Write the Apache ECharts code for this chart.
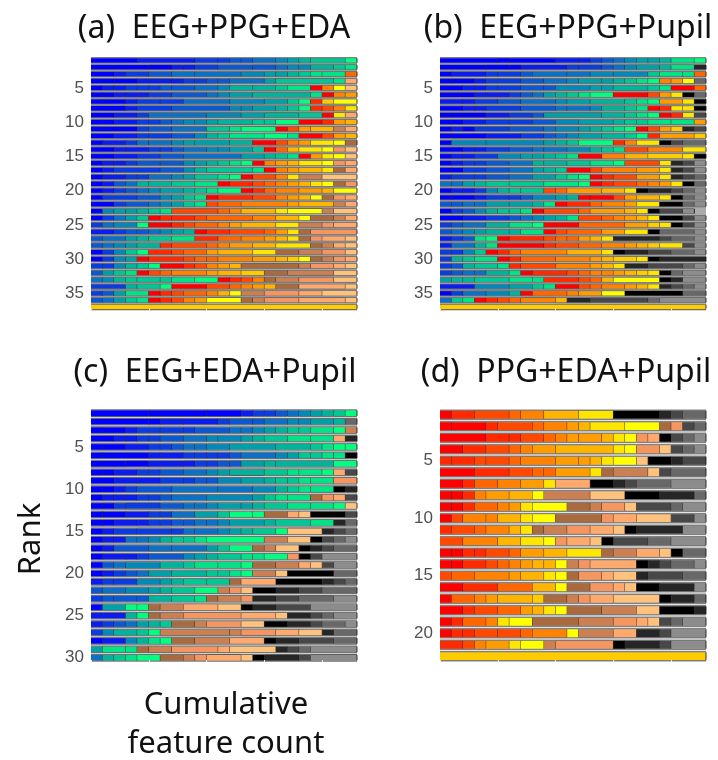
<!DOCTYPE html>
<html><head><meta charset="utf-8">
<style>html,body{margin:0;padding:0;background:#fff}#c{width:718px;height:760px}</style>
<script src="https://cdn.jsdelivr.net/npm/echarts@6/dist/echarts.min.js"></script></head>
<body><div id="c"></div><script>
// Shade codes: a-k EEG, l-u PPG, v-z EDA, A-E Pupil. Each token = shade + number of features.
const shadeColors = {
 a:'#0000ff',b:'#0a1cf0',c:'#0a3ce0',d:'#0c58d0',e:'#0c70c4',f:'#0488b8',g:'#00a0a8',h:'#00b49c',i:'#00c894',j:'#00e488',k:'#00ff80',
 l:'#ff0000',m:'#ff2a00',n:'#ff4800',o:'#ff6600',p:'#ff8200',q:'#ff9c00',r:'#ffb400',s:'#ffcc00',t:'#ffe600',u:'#ffff00',
 v:'#a96a3e',w:'#cc8052',x:'#f5955f',y:'#ffa96d',z:'#ffc27c',
 A:'#000000',B:'#262626',C:'#484848',D:'#686868',E:'#8c8c8c'};
const panelA = [
'a4 b5 c2 c1 d1 d1 e2 f1 g1 h1 i3 k1','a5 a2 b1 b1 c2 d3 d2 e1 f1 f1 h2 i1 j1','a2 b1 c2 d2 e2 e4 f2 g1 g1 h1 i1 j1 j2 o1','a2 a2 b3 b1 c1 c1 d1 d1 e3 g1 i5 j1 y1',
'a1 b1 b1 c1 c1 c1 d1 d2 e2 f1 h2 h2 i1 j2 l1 p1 u1 z1','a1 a1 b1 b2 c2 d3 e1 f1 g2 h5 j1 l1 p1 q1','a1 a2 b1 c2 c2 e4 f3 g2 i1 k1 m1 s1 u2','a3 b1 c3 d5 f1 f1 g2 h1 i1 k1 m1 n1 p1 t1',
'a2 b2 c1 e5 f3 g2 h3 i2 l1 t1 y1','a1 a1 b2 c1 c1 d1 e1 f1 f1 g1 h3 i1 i1 k2 l2 m1 q1 r1','a4 c1 d2 e3 i2 j1 k3 l1 n1 q1 r2 w1 y1','a2 b2 c1 c2 d2 f1 h1 i1 j3 k2 j1 l2 n1 q1 r1',
'a1 b2 c1 e1 e2 f1 g1 g3 h2 l2 n1 p1 q1 t2 u1 v1','a2 b1 b2 c1 c1 d1 e2 f1 f1 g2 i1 l1 o1 r1 t2 u1 x1 z1','a1 a1 b2 c2 d2 e5 g2 h1 i1 j1 l1 q1 t1 u1 z1','a1 b1 b1 c1 d2 d2 f1 g1 h1 i1 j1 k1 l1 p1 q1 r1 t2 u1 x1 y1',
'a1 b1 c4 d2 f1 h1 i4 j1 l1 p1 q1 r2 t1 v1 y1','a1 b2 c1 c1 e2 f1 g1 i2 j1 k1 l1 n2 p1 t1 w2 z3','a1 b1 d1 e1 h1 h2 i2 j2 l1 m2 n1 o1 p1 q1 r1 t1 u1 v1 x1','a1 b1 c1 d1 e1 f1 g2 h1 i1 j1 k2 l1 m1 o1 p2 q2 r1 u2',
'a1 c3 d2 f1 g1 i1 j1 l1 m3 n2 p1 q1 r1 u1 v1 x1 y1','a2 c1 d2 e1 f1 g1 i1 j1 n1 o2 p4 q1 r3 w1 y1','a1 f1 g1 g1 h1 i1 j1 n4 o1 p1 r3 t1 u3 w1 z2','a1 c1 e1 g1 i1 l1 m1 m2 n1 o4 p2 r2 u1 v2 w1 y1',
'c1 e1 f2 k1 l2 m1 n1 o2 p1 q1 r3 t2 w2 x1 y2','b2 c1 d1 d1 e1 f1 g1 h1 l1 m2 n3 o1 q1 t1 v1 x4','d1 e2 g1 h1 i2 j2 m2 o2 p2 q1 r1 t1 v1 x1 y2 z1','d1 e1 f1 g1 h2 m1 n3 o1 p1 q2 r2 t3 v1 w1 y1 z1',
'a1 c1 f1 i1 k1 m2 n1 o2 q1 r3 t2 v2 w2 x2 z1','a1 c1 f1 g1 l1 m3 n1 o1 o1 p3 q2 r1 s1 u1 v1 w1 x1 y1','c1 c1 f1 h1 i1 k1 l2 m1 n1 p1 q1 r1 v5 w1 x2 y1 z1','d1 g1 i1 j1 l1 n1 o1 p3 q1 r2 s2 v2 w4 z2',
'e1 f1 h1 i1 i2 i1 j2 k2 l1 m1 n1 p1 v1 w2 x3 z2','c3 h1 i2 k1 l3 n2 o1 p1 q1 r1 v2 y4 z1','c1 d1 g1 j2 l1 m1 n1 o2 p1 r1 u1 w2 x3 y2 z3','d1 e1 g1 i1 j1 l1 m1 n1 p1 q1 u3 v1 w1 x3 y4 z1','s23'];
const panelB = [
'a5 a1 a4 b2 b1 c1 d1 e1 f1 g1 g1 h1 j2 k1','a4 a2 a1 b4 c1 c2 d1 e1 f1 g2 h1 j2 B1','a1 b3 c1 c2 d1 e3 e2 f2 f3 i1 j2 j1 o1','a1 a2 b1 c3 d2 e2 f1 g2 g1 h1 i1 j1 k1 p1 q1 u1 D1',
'a2 b1 b1 c1 c2 d2 d1 f3 g1 g1 h3 i1 j1 l2 o1','a3 b1 b2 c1 d1 e1 g1 h1 i1 j1 k2 l3 n1 q1 t1 A1 D1','b2 b1 c2 d2 e3 f1 g2 h3 i1 j1 k1 q2 t1 A1','a2 b1 b1 c3 d3 e1 e2 f1 h2 i1 j1 l1 m1 t1 t1 A1',
'a4 b2 c2 d1 g5 h2 i1 j1 k1 l1 m1 t1 C1','a1 a1 b2 c2 c2 d2 f2 g3 h1 i1 i1 j2 j2 q1','a1 b1 a1 c3 d3 e1 f2 g1 h1 i1 j1 k1 l1 n1 q1 s1 B1 C1','a1 a3 b3 c2 d1 e1 f1 g2 h2 i1 k1 m1 q3 s1',
'a1 f3 f5 g1 h1 i1 k3 m1 p1 t2 A1 C1 D2','a2 b1 b1 c2 d2 e1 e2 f2 h1 i1 j1 n2 p3 t2','a1 b1 b1 c2 f2 g1 g1 h1 i1 j1 l2 p2 r2 s3 t1 A1','a1 b1 c1 c1 d2 e2 h1 h2 i2 j2 k1 n3 t1 B1 C1 E1',
'a1 a1 c2 d2 e2 g1 h1 i1 l2 n1 p3 q2 t1 B1 C1 E1','b1 c2 c1 d2 e2 g2 i1 j1 k1 l1 m1 n2 q2 t1 B1 C1 D1','e1 e1 g1 h1 i2 i3 j3 k1 l1 m1 n2 o1 p1 q1 t1 A1 D1','a1 b1 b1 c1 f1 h1 i1 i2 n1 o1 q3 r2 t1 A1 B2 C1 D1 E1',
'a1 a2 b1 c2 c1 d1 f2 g1 h1 l1 l2 n1 q1 r2 t1 A1 D1 E1','d1 d1 e1 e1 g2 g2 h1 j1 l1 m2 o1 p2 q1 t2 A2 D1 E1','a1 c1 d1 f1 h1 i1 i1 j1 l1 n3 o1 q3 r1 t1 A1 C2 E1','a2 b2 c2 d1 e1 f1 g1 h1 j1 n2 o1 p1 q1 r1 t1 A2 C1 E1',
'c1 d1 e2 h2 j2 k1 l3 o4 q2 s1 t1 A1 C1 E1','d1 e1 f1 g1 h2 h1 j2 l1 n1 o3 q2 t2 A1 D3 E1','b1 c1 d1 j1 k1 l1 m3 n1 o1 o1 q1 r1 t1 B4 C1 D2 E1','b1 e2 h1 j1 l4 m1 n2 o2 p2 q1 r1 s1 t2 C1 E1',
'c1 c1 f1 i1 l1 m1 o1 p4 r3 t1 A1 B2 C2 D2 E1','c1 h1 i1 j2 l1 m1 o3 p3 q1 r1 s2 t1 A1 B4','c1 d1 h1 i2 j1 m1 n3 p3 q1 r1 t1 B2 C3 D1 E1','c1 d1 e1 e1 h2 j1 l1 m3 n1 o1 p1 p1 q1 r1 s1 t1 A1 D1 E2',
'g1 h1 h1 i3 j2 j1 m3 n1 o1 r1 u4 A1 B1 E2','b3 f3 g2 i1 j1 l2 n1 o1 p2 q1 r1 t1 B1 C1 D1 E1','a1 c1 e2 f2 h1 l1 o3 p1 q2 u2 A5 D2','e1 i1 j1 l1 m1 n1 o1 p3 r1 B2 C5 D1 E4','s23'];
const panelC = [
'a5 a5 a3 b1 c1 c1 d1 e1 f1 g1 h1 i1 k1','a5 a1 b2 b3 c1 d2 d1 e2 f1 f1 g2 h1 D1','a1 a2 b1 c2 c2 c1 d3 e1 e1 f1 g1 h1 i1 i1 j2 k1 w1','a2 b1 b1 c1 c1 d2 e2 f1 f2 g1 h1 i2 j2 j2 y1 B1',
'a1 a2 b2 c1 c1 d1 e1 e1 f2 g4 h3 i1 j1 k1 k1','a1 a4 b1 b2 c1 c1 c1 c1 d1 e3 f1 g1 i1 i1 j1 j1 A1','a3 a2 b3 b1 c1 c1 d1 d1 g2 h1 h5 k2','a1 a1 b2 c1 c1 d2 e2 f1 g1 h3 i2 j1 j2 k1 y1 C1',
'a2 b2 b2 c2 c1 d1 d1 f2 g2 h1 i1 i1 j1 j2 x2','a1 a1 b1 c1 d3 e4 e3 f2 h1 i1 j1 j2 A1 B1','a1 b1 b1 b1 c1 c1 d1 e3 f4 g1 i1 j1 j2 v1 x1 y1 C1','a1 a1 c1 c3 d2 e1 e1 f1 g2 g1 h1 i2 j2 j2 k1 z1',
'a1 a2 b2 c1 c1 e2 g2 i1 k2 k1 v2 y1 z1 A3 C1','a1 a1 b2 b1 c1 c1 d1 d1 e1 e1 f1 g3 h1 i3 j2 B1 D1','a1 b1 c2 c3 c1 e1 e2 f1 g1 h1 i2 k1 z3 B1 C1 D1','a1 b1 b1 e1 e1 f1 h1 i1 i1 j1 k5 w2 z2 A1 C1 D1 E1',
'a1 b1 d3 e2 e3 g1 i1 k2 v1 w1 z2 A1 B1 C1 D2','a1 b2 b1 c1 d3 f1 g1 h1 i2 j1 j1 k2 x1 A1 C1 E3','a1 d1 e1 f3 h2 i1 j2 j2 k1 v2 w2 y1 z1 C1 E2','a1 b1 c1 d1 e1 g2 h3 i1 i1 j1 k1 w2 z1 A4 D2',
'b1 c1 c2 f2 g1 h1 i2 i2 v1 y3 A4 B1 C1 D1','d1 e2 f2 g1 h1 i2 k2 w1 x1 z1 A2 B2 C2 D3','c1 d1 d2 d1 h2 i2 j1 v1 w2 x1 B2 C2 D3 E2','a1 g2 k1 k1 v1 w2 y3 z2 A1 B2 C3 E4',
'b3 h1 k1 v1 w2 x5 y3 z1 B2 C1 D1 E2','b1 c1 d1 e1 g1 h1 i1 v2 w1 x3 z2 A2 B2 C1 D2 E1','c1 f1 h2 i1 k1 w6 w1 x3 y2 z2 B1 D2','a1 b2 f1 h1 j1 k1 v2 w3 y3 A1 B2 C3 D2',
'g1 j2 j1 v1 w2 x4 y1 z4 B1 C1 D1 E4','e1 h1 i1 j1 k2 v2 w1 x1 y3 z1 A1 B3 C1 E4'];
const panelD = [
'l1 m2 n3 o1 p2 r3 t3 A4 B1 C1 D2','l1 l3 m1 n3 o1 p2 q1 r1 t3 u3 v1 x1 C1 D1','l4 m2 m1 n2 o1 p1 q1 q2 r1 t1 u1 x1 y1 A1 C1 D1 E1','l2 m2 n2 o1 p1 q2 r5 t1 u1 x2 z1 C1 D1 E1',
'm1 m2 n1 n2 o1 p3 q2 q1 r1 t1 u2 z1 A2 B1 C2','l3 m3 n2 o1 o1 q3 t1 v1 w3 z1 C1 D3','l2 m1 o2 p2 q2 t1 y3 A2 B1 C1 D3 E3','l1 l1 m1 p1 q2 r2 u1 w4 z3 A3 B3 D1',
'l1 l1 m1 o2 p1 q1 t1 u3 v2 w1 x2 z1 C3 D1 E2','l1 n1 p2 p1 r2 t1 u2 v4 x1 y2 z3 C2 E1','m1 n2 o1 p2 r1 t1 v1 w2 x2 y2 z1 A1 B4 E2','n2 p3 r2 t2 u1 x1 y2 z1 A1 C3 D2 E3',
'l1 l1 m1 m1 n2 o1 q2 r2 t3 v1 w2 y2 z1 A1 D2','l1 l1 m2 n1 o1 p1 q1 r1 r1 u1 w1 x1 y4 A1 B1 C1 D2 E1','n1 o2 p3 q1 r2 t1 u1 v1 x2 y1 z2 B1 C3 D2','l2 m3 o3 r2 u1 v2 x2 y1 z1 A2 B3 E1',
'l1 o2 p1 q1 r3 s1 v2 w1 x1 y2 z4 A1 B2 D1','l2 m1 n2 o2 q1 r1 t1 u1 v3 w3 z2 A3 B1','l1 m1 o2 p1 t1 u2 v4 w3 x2 y1 z1 C1 D1 E2','l1 m1 m1 n2 n2 o1 p3 u1 w3 y2 B2 C1 E3',
'm2 n1 p1 q2 t1 u2 w1 x5 A1 B3 C1 E3','s23'];
const panelTitles = ['(a)  EEG+PPG+EDA','(b)  EEG+PPG+Pupil','(c)  EEG+EDA+Pupil','(d)  PPG+EDA+Pupil'];
const panels = [panelA,panelB,panelC,panelD];
const totalFeatures = 23;

const boxes = [
 {l:91,t:57,w:266,h:253.5,bg:'#ababab',gap:2.3,edge:0.6},
 {l:440,t:57,w:266,h:253.5,bg:'#ababab',gap:2.3,edge:0.6},
 {l:91,t:409,w:266,h:253,bg:'#cfcfcf',gap:2.7,edge:0.8},
 {l:440,t:409,w:266,h:253,bg:'#e4e4e4',gap:3.3,edge:0.9}];
const titlePos = [[214,29],[568,29],[215,373],[566,373]];
const grids=[],xs=[],ys=[],series=[],gfx=[];
panels.forEach((rows,p)=>{
  const b=boxes[p];
  grids.push({left:b.l,top:b.t,width:b.w,height:b.h,show:true,backgroundColor:b.bg,borderWidth:0,containLabel:false});
  xs.push({gridIndex:p,type:'value',min:0,max:totalFeatures,interval:5,position:'bottom',z:5,
    axisLine:{show:false},splitLine:{show:false},axisLabel:{show:false},
    axisTick:{show:true,inside:true,length:2,lineStyle:{color:'#e8e8e8',width:1}}});
  ys.push({gridIndex:p,type:'category',inverse:true,data:rows.map((_,i)=>String(i+1)),
    axisLine:{show:false},axisTick:{show:false},splitLine:{show:false},
    axisLabel:{interval:0,margin:7,color:'#505050',fontSize:17,fontFamily:'"Liberation Sans"',
      formatter:v=>(+v)%5===0?v:''}});
  const segs=[];
  rows.forEach((r,i)=>{let x=0;r.split(' ').forEach(t=>{const w=+t.slice(1);segs.push([x,x+w,i,t[0]]);x+=w;});});
  series.push({type:'custom',xAxisIndex:p,yAxisIndex:p,silent:true,clip:false,
    encode:{x:[0,1],y:2},data:segs,
    renderItem:(params,api)=>{
      const s=segs[params.dataIndex];
      const a=api.coord([s[0],s[2]]),e=api.coord([s[1],s[2]]);
      const band=api.size([0,1])[1],h=band-b.gap,y=a[1]-h/2,w=e[0]-a[0];
      const lw=1.1,edgeFill='rgba(70,70,70,0.85)';
      return {type:'group',children:[
        {type:'rect',shape:{x:a[0],y:y,width:w,height:h},style:{fill:shadeColors[s[3]]}},
        {type:'rect',shape:{x:e[0]-lw/2,y:y,width:lw,height:h},style:{fill:'rgba(35,25,25,0.8)'}},
        {type:'rect',shape:{x:a[0],y:y-b.edge,width:w,height:b.edge},style:{fill:edgeFill}},
        {type:'rect',shape:{x:a[0],y:y+h,width:w,height:b.edge},style:{fill:edgeFill}}
      ]};
    }});
  gfx.push({type:'text',x:titlePos[p][0],y:titlePos[p][1],style:{text:panelTitles[p],font:'32px "Noto Sans"',fill:'#111',align:'center',verticalAlign:'middle'}});
});
gfx.push({type:'text',x:31,y:539,rotation:Math.PI/2,style:{text:'Rank',font:'31px "Noto Sans"',fill:'#111',align:'center',verticalAlign:'middle'}});
gfx.push({type:'text',x:226,y:705,style:{text:'Cumulative',font:'31px "Noto Sans"',fill:'#111',align:'center',verticalAlign:'middle'}});
gfx.push({type:'text',x:226,y:744,style:{text:'feature count',font:'31px "Noto Sans"',fill:'#111',align:'center',verticalAlign:'middle'}});
const chart=echarts.init(document.getElementById('c'),null,{renderer:'canvas'});
chart.setOption({animation:false,backgroundColor:'#fff',grid:grids,xAxis:xs,yAxis:ys,series,graphic:gfx});
</script></body></html>
